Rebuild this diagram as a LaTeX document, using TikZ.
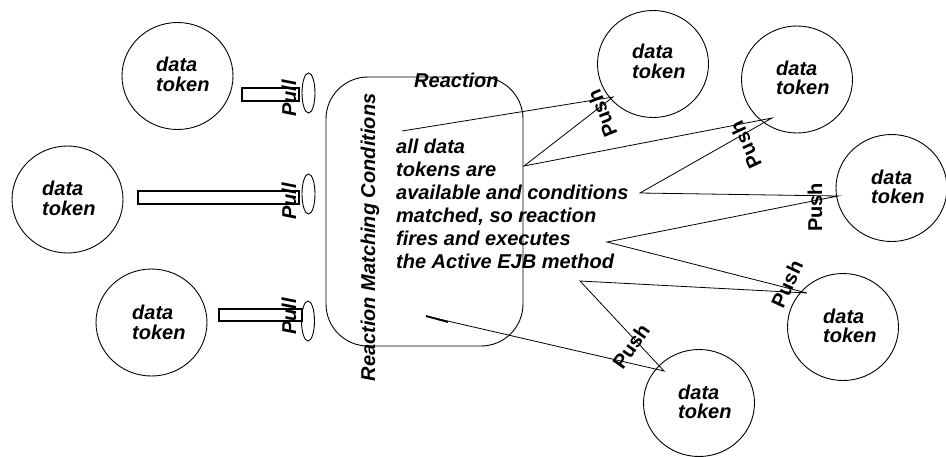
\documentclass[tikz,border=0pt]{standalone}
\usepackage{fontspec}
\setmainfont{Liberation Sans}
\usetikzlibrary{shapes.geometric}

\begin{document}
\begin{tikzpicture}[x=1pt,y=-1pt,
  token/.style={draw, ellipse, minimum width=111pt, minimum height=107pt,
                inner sep=0pt, line width=0.9pt},
  txt/.style={font=\fontsize{20}{20}\selectfont\bfseries\itshape,
              inner sep=0pt, anchor=base west},
  pushlbl/.style={font=\fontsize{20}{20}\selectfont\bfseries, inner sep=0pt},
  pulllbl/.style={font=\fontsize{20}{20}\selectfont\bfseries\itshape,
                  inner sep=0pt, anchor=base, rotate=90},
  pipe/.style={draw, rectangle, inner sep=0pt, line width=1.6pt},
  plug/.style={draw, ellipse, minimum width=13pt, minimum height=40pt,
               inner sep=0pt, line width=0.9pt},
  link/.style={line width=0.8pt, line join=miter}
]
\useasboundingbox (0,0) rectangle (946,456);

% data tokens
\node[token] (t1) at (177.5,76) {};
\node[token] (t2) at (67.5,199.5) {};
\node[token] (t3) at (151.5,322.5) {};
\node[token] (t4) at (653,64) {};
\node[token] (t5) at (797,79.5) {};
\node[token] (t6) at (891.5,188) {};
\node[token] (t7) at (843,327) {};
\node[token] (t8) at (699,403) {};

\foreach \n/\x/\ya/\yb in {1/156/71/91, 2/42/195/215, 3/132/319/339,
                           4/632/58/78, 5/776/75/94, 6/871/184/203,
                           7/823/323/342, 8/678/399/418} {
  \node[txt] (d\n) at (\x,\ya) {data};
  \node[txt] (k\n) at (\x,\yb) {token};
}

% pull pipes and plugs
\node[pipe, minimum width=57pt, minimum height=13pt] (p1) at (270.5,94.5) {};
\node[pipe, minimum width=161pt, minimum height=13pt] (p2) at (218.5,197.5) {};
\node[pipe, minimum width=83pt, minimum height=12pt] (p3) at (260.5,315) {};
\node[plug] (e1) at (308.5,93) {};
\node[plug] (e2) at (308.5,194) {};
\node[plug] (e3) at (308,321) {};
\node[pulllbl] (l1) at (296,98.5) {Pull};
\node[pulllbl] (l2) at (296,201.5) {Pull};
\node[pulllbl] (l3) at (296,316.5) {Pull};

% reaction box
\node[draw, rectangle, rounded corners=42pt, line width=0.9pt,
      minimum width=197pt, minimum height=269pt, inner sep=0pt]
      (reaction) at (424.5,211.5) {};
\node[txt] (rtitle) at (414,87) {Reaction};
\node[font=\fontsize{20}{20}\selectfont\bfseries\itshape, inner sep=0pt,
      anchor=base, rotate=90] (rcond) at (375,237.5)
      {Reaction Matching Conditions};

\foreach \i/\s in {0/all data, 1/tokens are, 2/available and conditions,
                   3/{matched, so reaction}, 4/fires and executes,
                   5/the Active EJB method} {
  \node[txt] (body\i) at (396,153+23*\i) {\s};
}

% push connectors
\coordinate (a) at (402,131);
\coordinate (b) at (613,97);
\coordinate (c) at (524,166);
\coordinate (d) at (772,118);
\coordinate (e) at (640,193);
\coordinate (f) at (838,196);
\coordinate (g) at (607,242);
\coordinate (h) at (807,293);
\coordinate (i) at (580,281);
\coordinate (j) at (664,371);
\coordinate (k) at (426,316);
\coordinate (k2) at (448,322);

\draw[link] (a) -- (b) -- (c) -- (d) -- (e) -- (f) -- (g) -- (h) -- (i)
            -- (j) -- (k);
\draw[line width=1.8pt] (k) -- (k2);

\node[pushlbl, rotate=112] (s1) at (602,114) {Push};
\node[pushlbl, rotate=115] (s2) at (745.5,145) {Push};
\node[pushlbl, rotate=90, anchor=base] (s3) at (822,207.5) {Push};
\node[pushlbl, rotate=65] (s4) at (787,284) {Push};
\node[pushlbl, rotate=55] (s5) at (631,346) {Push};
\end{tikzpicture}
\end{document}
